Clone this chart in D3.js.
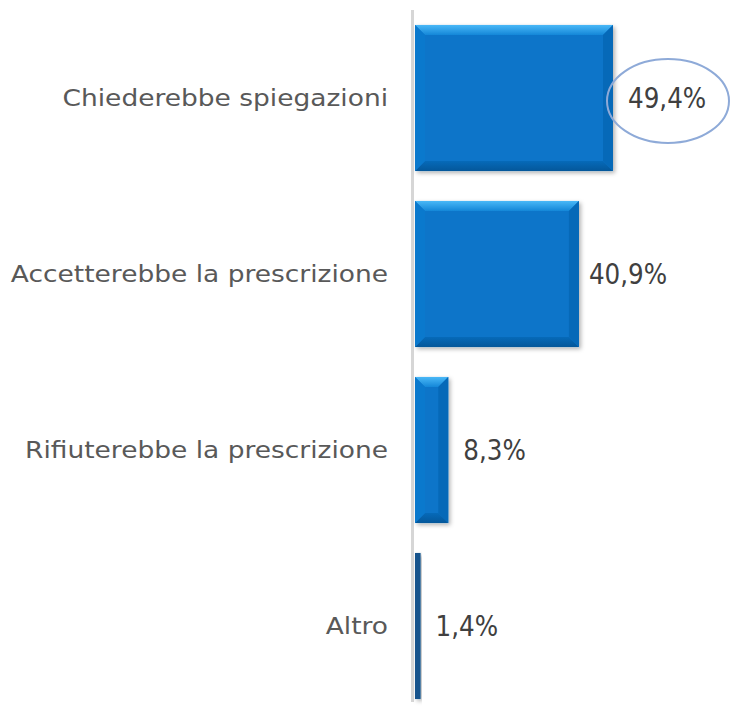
<!DOCTYPE html>
<html><head><meta charset="utf-8">
<script src="https://cdn.jsdelivr.net/npm/d3@7"></script>
<style>body{margin:0;background:#fff}svg{display:block}</style>
</head><body>
<script>
const categories = ["Chiederebbe spiegazioni","Accetterebbe la prescrizione","Rifiuterebbe la prescrizione","Altro"];
const values = [49.4, 40.9, 8.3, 1.4];
const valueLabels = ["49,4%","40,9%","8,3%","1,4%"];

const W = 731, H = 706;
const svg = d3.select("body").append("svg").attr("width", W).attr("height", H);
const defs = svg.append("defs");
const f = defs.append("filter").attr("id","sh").attr("x","-20%").attr("y","-20%").attr("width","140%").attr("height","140%");
f.append("feDropShadow").attr("dx",2).attr("dy",2).attr("stdDeviation",2).attr("flood-color","#000").attr("flood-opacity",0.3);
const gt = defs.append("linearGradient").attr("id","gtop").attr("x1",0).attr("y1",0).attr("x2",0).attr("y2",1);
gt.append("stop").attr("offset",0).attr("stop-color","#4ab8f7");
gt.append("stop").attr("offset",1).attr("stop-color","#1487d8");
const gb = defs.append("linearGradient").attr("id","gbot").attr("x1",0).attr("y1",0).attr("x2",0).attr("y2",1);
gb.append("stop").attr("offset",0).attr("stop-color","#066ab9");
gb.append("stop").attr("offset",1).attr("stop-color","#04579a");

const x0 = 415;
const x = d3.scaleLinear().domain([0, 49.4]).range([x0, 613]);
const y = d3.scaleBand().domain(categories).range([10, 714]).paddingInner(0.17).paddingOuter(0.085);

const font = "'DejaVu Sans', sans-serif";

// axis line
svg.append("line").attr("x1",412.5).attr("x2",412.5).attr("y1",10).attr("y2",702)
  .attr("stroke","#d6d6d6").attr("stroke-width",3);

const g = svg.selectAll("g.bar").data(categories).join("g").attr("class","bar");
g.each(function(c,i){
  const gg = d3.select(this);
  const x1 = x0, x2 = x(values[i]), y1 = y(c), y2 = y(c)+y.bandwidth();
  const w = x2-x1;
  const b = Math.min(10, w/2);
  if (w < 8) {
    gg.append("rect").attr("x",x1).attr("y",y1).attr("width",w).attr("height",y2-y1)
      .attr("fill","#17538c").attr("filter","url(#sh)");
    return;
  }
  gg.append("rect").attr("x",x1).attr("y",y1).attr("width",w).attr("height",y2-y1)
    .attr("fill","#0875c9").attr("filter","url(#sh)");
  gg.append("polygon").attr("points",[[x1,y1],[x2,y1],[x2-b,y1+b],[x1+b,y1+b]].join(" "))
    .attr("fill","url(#gtop)");
  gg.append("polygon").attr("points",[[x1,y2],[x2,y2],[x2-b,y2-b],[x1+b,y2-b]].join(" "))
    .attr("fill","url(#gbot)");
  gg.append("polygon").attr("points",[[x2,y1],[x2,y2],[x2-b,y2-b],[x2-b,y1+b]].join(" "))
    .attr("fill","#0669b8");
  gg.append("polygon").attr("points",[[x1,y1],[x1,y2],[x1+b,y2-b],[x1+b,y1+b]].join(" "))
    .attr("fill","#0a79cd");
});

const cat = svg.selectAll("text.cat").data(categories).join("text").attr("class","cat")
  .attr("x",388).attr("y",d=>y(d)+y.bandwidth()/2).attr("dy","0.36em")
  .attr("text-anchor","end").attr("font-family",font).attr("font-size",23)
  .attr("fill","#595959").text(d=>d);
cat.each(function(){ const L = this.getComputedTextLength(); d3.select(this).attr("textLength", L*1.15).attr("lengthAdjust","spacingAndGlyphs"); });

const val = svg.selectAll("text.val").data(values).join("text").attr("class","val")
  .attr("x",(d,i)=>x(d)+(i===1?10:15)).attr("y",(d,i)=>y(categories[i])+y.bandwidth()/2)
  .attr("dy","0.36em").attr("font-family",font).attr("font-size",28)
  .attr("fill","#404040").text((d,i)=>valueLabels[i]);
val.each(function(){ const L = this.getComputedTextLength(); d3.select(this).attr("textLength", L*0.88).attr("lengthAdjust","spacingAndGlyphs"); });

// highlight ellipse
svg.append("ellipse").attr("cx",x(values[0])+55).attr("cy",y(categories[0])+y.bandwidth()/2+3)
  .attr("rx",61).attr("ry",42).attr("fill","none").attr("stroke","#8eaad8").attr("stroke-width",2);
</script>
</body></html>
